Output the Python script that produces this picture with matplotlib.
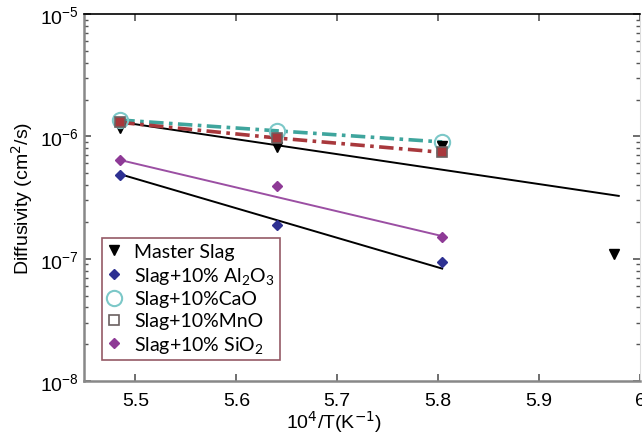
import matplotlib
matplotlib.use("Agg")
import matplotlib.pyplot as plt
import numpy as np

plt.rcParams['font.family'] = ['Liberation Sans', 'DejaVu Sans']

# measured points, x = 10^4/T
x_pts = [5.485, 5.64, 5.804]
master_x = [5.485, 5.64, 5.804, 5.974]
master_y = [1.18e-6, 8.2e-7, 8.4e-7, 1.09e-7]
al2o3_y = [4.85e-7, 1.9e-7, 9.4e-8]
cao_y = [1.36e-6, 1.11e-6, 9.0e-7]
mno_y = [1.30e-6, 9.7e-7, 7.4e-7]
sio2_y = [6.4e-7, 3.95e-7, 1.51e-7]

# fitted lines (end points)
master_fit_x = [5.485, 5.979]
master_fit_y = [1.31e-6, 3.26e-7]
al2o3_fit_x = [5.485, 5.804]
al2o3_fit_y = [4.9e-7, 8.3e-8]
sio2_fit_x = [5.485, 5.804]
sio2_fit_y = [6.4e-7, 1.53e-7]

labels = ['Master Slag', r'Slag+10% $\mathdefault{Al_2O_3}$', 'Slag+10%CaO',
          'Slag+10%MnO', r'Slag+10% $\mathdefault{SiO_2}$']

fig = plt.figure(figsize=(6.42, 4.39), dpi=100)
ax = fig.add_axes([0.1308, 0.1298, 0.866, 0.836])

# lines
ax.plot(master_fit_x, master_fit_y, color='black', lw=1.4)
ax.plot(al2o3_fit_x, al2o3_fit_y, color='black', lw=1.4)
ax.plot(sio2_fit_x, sio2_fit_y, color='#9b4fa3', lw=1.4)
ax.plot(x_pts, cao_y, color='#3fa59d', lw=2.6, dashes=[4, 1.5, 1, 1.5])
ax.plot(x_pts, mno_y, color='#a8383c', lw=2.6, dashes=[4, 1.5, 1, 1.5])

# markers
ax.plot(master_x, master_y, 'v', color='black', ms=7, ls='none', label=labels[0])
ax.plot(x_pts, al2o3_y, 'D', color='#2e3192', ms=5, ls='none', label=labels[1])
ax.plot(x_pts, cao_y, 'o', mfc='none', mec='#7cc8c8', mew=1.5, ms=11, ls='none', label=labels[2])
ax.plot(x_pts, mno_y, 's', mfc='#a8383c', mec='#6b6060', mew=1.2, ms=6.5, ls='none', label=labels[3])
ax.plot(x_pts, sio2_y, 'D', color='#8e3a96', ms=5.5, ls='none', label=labels[4])

ax.set_yscale('log')
ax.set_ylim(1e-8, 1e-5)
ax.set_xlim(5.449, 6.0)
ax.set_xticks([5.5, 5.6, 5.7, 5.8, 5.9, 6.0])
ax.set_xticklabels(['5.5', '5.6', '5.7', '5.8', '5.9', '6'])

ax.tick_params(which='both', direction='in', top=True, right=True, labelsize=14, colors='#555555', labelcolor='black')
ax.tick_params(which='major', length=5, width=1.2)
ax.tick_params(which='minor', length=3, width=1)
ax.tick_params(axis='x', pad=8)

for s in ['left', 'bottom']:
    ax.spines[s].set_color('#888888')
    ax.spines[s].set_linewidth(1.8)
ax.spines['top'].set_color('black')
ax.spines['top'].set_linewidth(1.2)
ax.spines['right'].set_color('#dddddd')

ax.set_ylabel('Diffusivity (cm$^2$/s)', fontsize=14, labelpad=4)
ax.set_xlabel('10$^4$/T(K$^{-1}$)', fontsize=14, labelpad=2)
ax.xaxis.set_label_coords(0.45, -0.075)

leg = ax.legend(loc='upper left', bbox_to_anchor=(0.032, 0.39), borderaxespad=0,
                frameon=True, fancybox=False, edgecolor='#7a3040',
                prop={'family': 'Lato', 'size': 14}, labelspacing=0.25,
                handlelength=0.8, handletextpad=0.6, borderpad=0.25)
leg.get_frame().set_linewidth(1.2)
leg.legend_handles[3].set_markerfacecolor('none')

plt.savefig('out.png', dpi=100)
